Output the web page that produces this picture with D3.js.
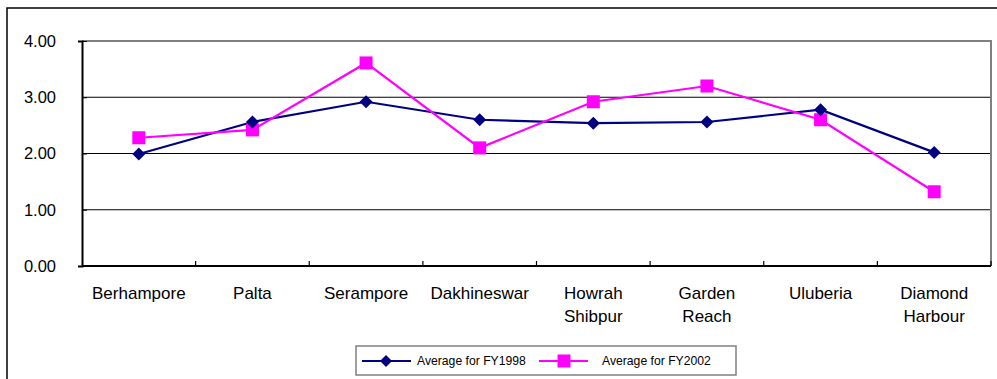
<!DOCTYPE html>
<html><head><meta charset="utf-8">
<script src="https://cdn.jsdelivr.net/npm/d3@7"></script>
<style>body{margin:0;background:#fff}svg{display:block;font-family:"Liberation Sans",Arial,sans-serif}</style>
</head><body><svg id="c" width="997" height="379"></svg>
<script>
const categories = ["Berhampore","Palta","Serampore","Dakhineswar","Howrah\nShibpur","Garden\nReach","Uluberia","Diamond\nHarbour"];
const fy1998 = [1.99,2.56,2.92,2.60,2.54,2.56,2.78,2.02];
const fy2002 = [2.28,2.42,3.61,2.10,2.92,3.20,2.60,1.32];
const yTicks = [0,1,2,3,4];
const seriesNames = ["Average for FY1998","Average for FY2002"];

const svg = d3.select("#c");
const L=82,R=991,T=41,B=266;
svg.append("path").attr("d","M7,379 V8 H997").attr("fill","none").attr("stroke","#000").attr("stroke-width",1.5);

const x = d3.scaleBand().domain(categories).range([L,R]).padding(0);
const y = d3.scaleLinear().domain([0,4]).range([B,T]);

svg.append("g").selectAll("line").data(yTicks.filter(v=>v>0&&v<4)).join("line")
  .attr("x1",L).attr("x2",R).attr("y1",d=>y(d)).attr("y2",d=>y(d)).attr("stroke","#000").attr("stroke-width",1);
svg.append("path").attr("d",`M${L},${T} H${R} V${B}`).attr("fill","none").attr("stroke","#808080").attr("stroke-width",2);

const ya = svg.append("g").attr("transform",`translate(${L},0)`).call(d3.axisLeft(y).tickValues(yTicks).tickFormat(d3.format(".2f")).tickSize(4).tickPadding(22));
ya.select(".domain").attr("stroke","#000").attr("stroke-width",2);
ya.selectAll(".tick line").attr("x1",0).attr("x2",5).attr("stroke","#000");
ya.selectAll("text").attr("font-size",16.5).attr("font-family","'Liberation Sans',Arial,sans-serif").attr("fill","#000");

svg.append("line").attr("x1",L).attr("x2",R).attr("y1",B).attr("y2",B).attr("stroke","#000").attr("stroke-width",2);
svg.append("g").selectAll("line").data(categories).join("line")
  .attr("x1",(d,i)=>L+x.bandwidth()*(i+1)).attr("x2",(d,i)=>L+x.bandwidth()*(i+1))
  .attr("y1",B).attr("y2",B-5).attr("stroke","#000").attr("stroke-width",1.2);
const xl = svg.append("g").selectAll("text").data(categories).join("text")
  .attr("x",d=>x(d)+x.bandwidth()/2).attr("y",299).attr("text-anchor","middle")
  .attr("font-size",17).attr("fill","#000");
xl.each(function(d){
  const lines=d.split("\n"); const t=d3.select(this);
  lines.forEach((s,i)=>t.append("tspan").attr("x",x(d)+x.bandwidth()/2).attr("dy",i?23:0).text(s));
});

const cx = d => x(d)+x.bandwidth()/2;
const line = d3.line().x((d,i)=>cx(categories[i])).y(d=>y(d));
svg.append("path").datum(fy1998).attr("d",line).attr("fill","none").attr("stroke","#000080").attr("stroke-width",2.2);
svg.append("path").datum(fy2002).attr("d",line).attr("fill","none").attr("stroke","#ff00ff").attr("stroke-width",2.2);

function diam(g,cxv,cyv,s){ g.append("path").attr("d",`M${cxv},${cyv-s} L${cxv+s},${cyv} L${cxv},${cyv+s} L${cxv-s},${cyv} Z`).attr("fill","#000080"); }
function sq(g,cxv,cyv,s){ g.append("rect").attr("x",cxv-s).attr("y",cyv-s).attr("width",2*s).attr("height",2*s).attr("fill","#ff00ff"); }
const mk = svg.append("g");
fy2002.forEach((v,i)=>sq(mk,cx(categories[i]),y(v),6.5));
fy1998.forEach((v,i)=>diam(mk,cx(categories[i]),y(v),6.5));

const lg = svg.append("g");
lg.append("rect").attr("x",356).attr("y",346).attr("width",380).attr("height",29).attr("fill","#fff").attr("stroke","#808080").attr("stroke-width",1.5);
lg.append("line").attr("x1",362).attr("x2",411).attr("y1",361).attr("y2",361).attr("stroke","#000080").attr("stroke-width",2.2);
diam(lg,386,361,6);
lg.append("text").attr("x",417).attr("y",365).attr("font-size",12.2).text(seriesNames[0]);
lg.append("line").attr("x1",539).attr("x2",588).attr("y1",361).attr("y2",361).attr("stroke","#ff00ff").attr("stroke-width",2.2);
sq(lg,564,361,6.5);
lg.append("text").attr("x",602).attr("y",365).attr("font-size",12.2).text(seriesNames[1]);
</script></body></html>
